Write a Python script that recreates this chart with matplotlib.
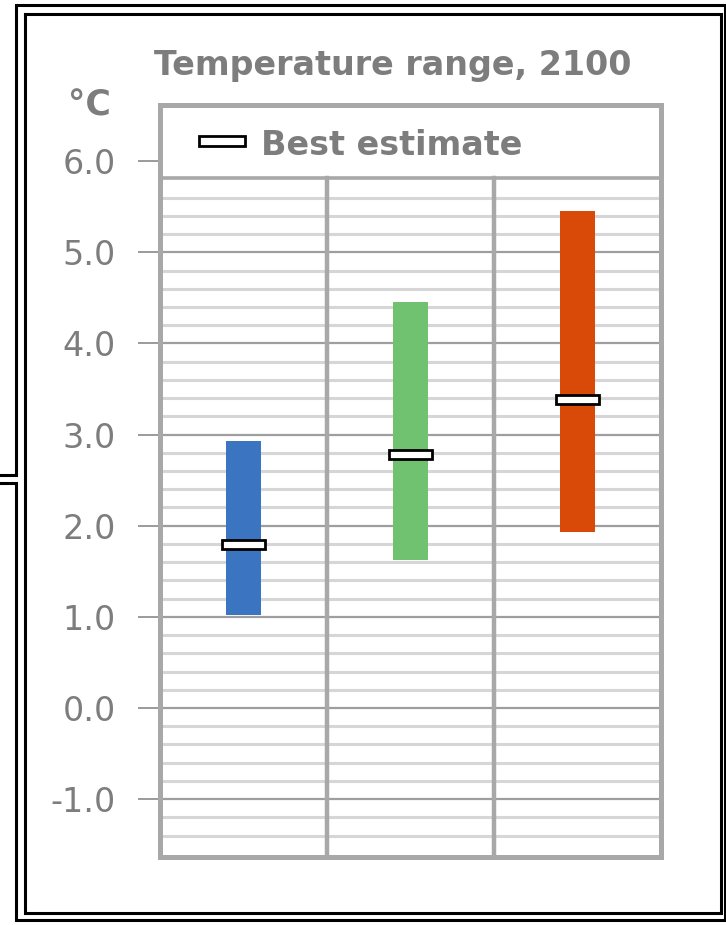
import matplotlib
matplotlib.use("Agg")
import matplotlib.pyplot as plt
from matplotlib.patches import Rectangle
from matplotlib.lines import Line2D

# Scenario ranges for 2100 (°C)
scenarios = ["B1", "A1B", "A2"]
low = [1.02, 1.62, 1.93]
high = [2.93, 4.45, 5.45]
best = [1.79, 2.78, 3.38]
colors = ["#3b74c0", "#70c270", "#d94a08"]
yticks = [-1.0, 0.0, 1.0, 2.0, 3.0, 4.0, 5.0, 6.0]

W, H = 726, 925
fig = plt.figure(figsize=(W / 100, H / 100), dpi=100)
fig.patch.set_facecolor("white")

def fx(px):
    return px / W

def fy(py):
    return 1 - py / H

GRAY_TXT = "#7d7d7d"
FRAME = "#a8a8a8"

# plot area (pixel frame 160..661 x 105..857)
ax = fig.add_axes([fx(160), fy(857), fx(661) - fx(160), fy(105) - fy(857)])
ylo, yhi = -1.635, 6.616
legend_bottom = 5.82
ax.set_xlim(-0.5, 2.5)
ax.set_ylim(ylo, yhi)

# horizontal grid: light minor lines every 0.2, darker lines on whole degrees
v = -1.4
while v < legend_bottom - 0.05:
    r = round(v, 1)
    if abs(r - round(r)) < 1e-6:
        ax.axhline(r, color="#9e9e9e", lw=1.6, zorder=1)
    else:
        ax.axhline(r, color="#d6d6d6", lw=2.2, zorder=1)
    v += 0.2

# category separators and legend box bottom edge
frac_top = (legend_bottom - ylo) / (yhi - ylo)
for xs in [0.5, 1.5]:
    ax.axvline(xs, ymin=0, ymax=frac_top, color=FRAME, lw=3.2, zorder=2)
ax.axhline(legend_bottom, color=FRAME, lw=2.6, zorder=2)

# ranges
xs = list(range(len(scenarios)))
heights = [h - l for h, l in zip(high, low)]
ax.bar(xs, heights, bottom=low, width=0.215, color=colors, zorder=3)

# best-estimate markers
mw, mh = 0.26, 0.10
for x, b in zip(xs, best):
    ax.add_patch(Rectangle((x - mw / 2, b - mh / 2), mw, mh,
                           facecolor="white", edgecolor="black", lw=2.0, zorder=4))

for s in ax.spines.values():
    s.set_color(FRAME)
    s.set_linewidth(3.6)
ax.set_xticks([])
ax.set_yticks(yticks)
ax.set_yticklabels([f"{t:.1f}" for t in yticks])
ax.tick_params(axis="y", direction="out", length=16, width=1.2, color="#8a8a8a",
               pad=16, labelsize=24, labelcolor=GRAY_TXT)

# legend inside the top band
fig.add_artist(Rectangle((fx(199), fy(146)), fx(245) - fx(199), fy(136) - fy(146),
                         facecolor="white", edgecolor="black", lw=2.0,
                         transform=fig.transFigure))
fig.text(fx(261), fy(155), "Best estimate", fontsize=24, fontweight="bold",
         color=GRAY_TXT, ha="left", va="baseline")

# title and unit
fig.text(fx(393), fy(75), "Temperature range, 2100", fontsize=24, fontweight="bold",
         color=GRAY_TXT, ha="center", va="baseline")
fig.text(fx(111), fy(115), "°C", fontsize=25, fontweight="bold",
         color=GRAY_TXT, ha="right", va="baseline")

# double border with a connector from the left
def fig_line(pts, lw=2.2):
    xs_ = [fx(p[0]) for p in pts]
    ys_ = [fy(p[1]) for p in pts]
    fig.add_artist(Line2D(xs_, ys_, color="black", lw=lw, transform=fig.transFigure,
                          solid_joinstyle="miter"))

fig_line([(0, 475), (16, 475), (16, 5), (725, 5), (725, 920), (16, 920), (16, 483), (0, 483)])
fig_line([(25, 14), (721, 14), (721, 913), (25, 913), (25, 14)])

fig.savefig("out.png", dpi=100, facecolor="white")
